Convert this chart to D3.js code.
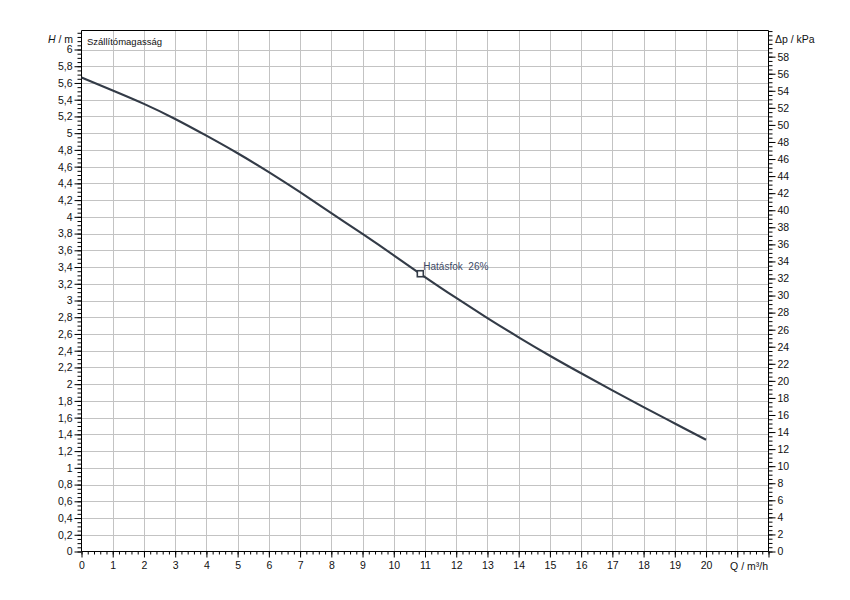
<!DOCTYPE html>
<html>
<head>
<meta charset="utf-8">
<script src="https://cdn.jsdelivr.net/npm/d3@7"></script>
<style>
  html, body { margin: 0; padding: 0; background: #fff; }
  svg text { font-family: "Liberation Sans", Arial, sans-serif; font-size: 10.5px; fill: #111; }
</style>
</head>
<body>
<svg id="chart" width="850" height="600"></svg>
<script>
// ---- data ----
const flowQ = [0, 1, 2, 3, 4, 5, 6, 7, 8, 9, 10, 11, 12, 13, 14, 15, 16, 17, 18, 19, 20];
const headH = [5.665, 5.51, 5.35, 5.17, 4.97, 4.76, 4.535, 4.295, 4.045, 3.795, 3.54, 3.28, 3.03, 2.79, 2.56, 2.34, 2.13, 1.925, 1.725, 1.53, 1.335];
const markerQ = [10.85];
const markerH = [3.32];
const markerLabel = ["Hatásfok  26%"];
const xTickValues = d3.range(0, 21, 1);
const yTickValues = d3.range(0, 31, 1).map(i => +(i * 0.2).toFixed(1));
const kpaTickValues = d3.range(0, 59, 2);
const curveName = "Szállítómagasság";
const xAxisLabel = "Q / m³/h";
const rightAxisLabel = "Δp / kPa";

// ---- layout ----
const svg = d3.select("#chart");
const pLeft = 81.5, pRight = 768.5, pTop = 30.5, pBottom = 551.5;
const xMax = 22;
const x = d3.scaleLinear().domain([0, xMax]).range([pLeft, pRight]);
const pxPerM = (pBottom - 49.5) / 6;
const yMax = (pBottom - pTop) / pxPerM;
const y = d3.scaleLinear().domain([0, yMax]).range([pBottom, pTop]);
const gAcc = 9.80665;
const yk = d3.scaleLinear().domain([0, yMax * gAcc]).range([pBottom, pTop]);
const fmt = v => String(+v.toFixed(2)).replace(".", ",");

// grid
const grid = svg.append("g").attr("stroke", "#c3c3c3").attr("stroke-width", 1);
grid.selectAll("line.v").data(d3.range(1, xMax, 1)).join("line")
  .attr("x1", d => Math.round(x(d)) + 0.5).attr("x2", d => Math.round(x(d)) + 0.5)
  .attr("y1", pTop).attr("y2", pBottom);
grid.selectAll("line.h").data(yTickValues.filter(v => v > 0)).join("line")
  .attr("y1", d => Math.round(y(d)) + 0.5).attr("y2", d => Math.round(y(d)) + 0.5)
  .attr("x1", pLeft).attr("x2", pRight);

// frame
svg.append("line").attr("x1", pLeft).attr("x2", pRight).attr("y1", pTop).attr("y2", pTop).attr("stroke", "#000");

// left axis
const leftAxis = d3.axisLeft(y).tickValues(yTickValues).tickSize(7).tickFormat(fmt);
const la = svg.append("g").attr("transform", `translate(${pLeft},0)`).call(leftAxis);
la.select(".domain").remove();
la.selectAll(".tick line").attr("stroke", "#000");
la.selectAll(".tick text").attr("x", -9).style("font-family", "Liberation Sans, Arial, sans-serif").style("font-size", "10.5px").attr("fill", "#111");
const lMinor = svg.append("g").attr("transform", `translate(${pLeft},0)`)
  .call(d3.axisLeft(y).tickValues(d3.range(0, yMax, 0.05)).tickSize(4).tickFormat(""));
lMinor.select(".domain").remove();
lMinor.selectAll(".tick line").attr("stroke", "#000");
svg.append("line").attr("x1", pLeft).attr("x2", pLeft).attr("y1", pTop).attr("y2", pBottom).attr("stroke", "#000");

// right axis
const rightAxis = d3.axisRight(yk).tickValues(kpaTickValues).tickSize(7).tickFormat(d => d);
const ra = svg.append("g").attr("transform", `translate(${pRight},0)`).call(rightAxis);
ra.select(".domain").remove();
ra.selectAll(".tick line").attr("stroke", "#000");
ra.selectAll(".tick text").attr("x", 9).style("font-family", "Liberation Sans, Arial, sans-serif").style("font-size", "10.5px").attr("fill", "#111");
const rMinor = svg.append("g").attr("transform", `translate(${pRight},0)`)
  .call(d3.axisRight(yk).tickValues(d3.range(0, yMax * gAcc, 0.5)).tickSize(4).tickFormat(""));
rMinor.select(".domain").remove();
rMinor.selectAll(".tick line").attr("stroke", "#000");
svg.append("line").attr("x1", pRight).attr("x2", pRight).attr("y1", pTop).attr("y2", pBottom).attr("stroke", "#000");

// bottom axis
const bottomAxis = d3.axisBottom(x).tickValues(d3.range(0, xMax + 1, 1)).tickSize(6)
  .tickFormat(d => xTickValues.includes(d) ? d : "");
const ba = svg.append("g").attr("transform", `translate(0,${pBottom})`).call(bottomAxis);
ba.select(".domain").remove();
ba.selectAll(".tick line").attr("stroke", "#000");
ba.selectAll(".tick text").attr("y", 10).style("font-family", "Liberation Sans, Arial, sans-serif").style("font-size", "10.5px").attr("fill", "#111");
const bMinor = svg.append("g").attr("transform", `translate(0,${pBottom})`)
  .call(d3.axisBottom(x).tickValues(d3.range(0, xMax + 0.01, 0.2)).tickSize(3).tickFormat(""));
bMinor.select(".domain").remove();
bMinor.selectAll(".tick line").attr("stroke", "#000");
svg.append("line").attr("x1", pLeft).attr("x2", pRight).attr("y1", pBottom).attr("y2", pBottom).attr("stroke", "#000");

// axis titles
const hLab = svg.append("text").attr("x", 73).attr("y", 43).attr("text-anchor", "end");
hLab.append("tspan").attr("font-style", "italic").text("H");
hLab.append("tspan").text(" / m");
svg.append("text").attr("x", 768).attr("y", 570).attr("text-anchor", "end").text(xAxisLabel);
svg.append("text").attr("x", 775).attr("y", 43).text(rightAxisLabel);
svg.append("text").attr("x", 87).attr("y", 45).style("font-size", "9.5px").text(curveName);

// curve
const pts = flowQ.map((q, i) => [q, headH[i]]);
svg.append("path").datum(pts)
  .attr("fill", "none").attr("stroke", "#333b47").attr("stroke-width", 2.1)
  .attr("d", d3.line().x(d => x(d[0])).y(d => y(d[1])).curve(d3.curveNatural));

// marker
markerQ.forEach((q, i) => {
  svg.append("rect").attr("x", x(q) - 3).attr("y", y(markerH[i]) - 3).attr("width", 6).attr("height", 6)
    .attr("fill", "#fff").attr("stroke", "#333b47").attr("stroke-width", 1.6);
  svg.append("text").attr("x", x(q) + 3).attr("y", y(markerH[i]) - 4)
    .style("fill", "#3d4a66").style("font-size", "10px").style("white-space", "pre").text(markerLabel[i]);
});
</script>
</body>
</html>
